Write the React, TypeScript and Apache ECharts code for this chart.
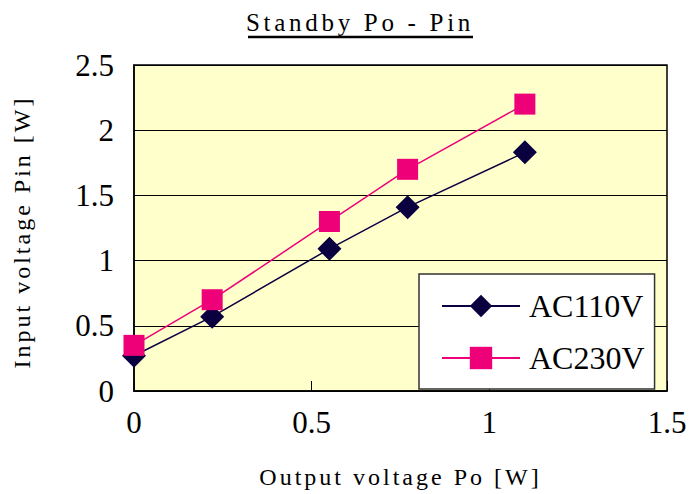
import React, { useEffect, useRef } from "react";
import * as echarts from "echarts";

const titleText = "Standby Po - Pin";
const xAxisName = "Output voltage Po [W]";
const yAxisName = "Input voltage Pin [W]";
const seriesNames = ["AC110V", "AC230V"];
const outputPo = [0, 0.22, 0.55, 0.77, 1.1];
const pinAC110 = [0.27, 0.57, 1.09, 1.41, 1.83];
const pinAC230 = [0.35, 0.7, 1.3, 1.7, 2.2];
const xMin = 0, xMax = 1.5, xStep = 0.5;
const yMin = 0, yMax = 2.5, yStep = 0.5;

const FONT = "Liberation Serif";

export default function App() {
  const ref = useRef<HTMLDivElement>(null);
  useEffect(() => {
    if (!ref.current) return;
    const chart = echarts.init(ref.current, null, { renderer: "svg" });
    const pair = (ys: number[]) => outputPo.map((x, i) => [x, ys[i]]);
    chart.setOption({
      animation: false,
      backgroundColor: "#ffffff",
      textStyle: { fontFamily: FONT, color: "#000" },
      grid: {
        left: 134, right: 23, top: 65, bottom: 102,
        show: true, backgroundColor: "#FFFFCC", borderColor: "#000", borderWidth: 1.5,
      },
      xAxis: {
        type: "value", min: xMin, max: xMax, interval: xStep,
        name: xAxisName, nameLocation: "middle", nameGap: 74,
        nameTextStyle: { fontSize: 24, fontFamily: FONT, color: "#000" },
        axisLine: { show: true, lineStyle: { color: "#000", width: 1.5 } },
        axisTick: { show: true, inside: true, length: 10, lineStyle: { color: "#000" } },
        axisLabel: { fontSize: 31, fontFamily: FONT, color: "#000", margin: 16 },
        splitLine: { show: false },
      },
      yAxis: {
        type: "value", min: yMin, max: yMax, interval: yStep,
        axisLine: { show: true, lineStyle: { color: "#000", width: 1.5 } },
        axisTick: { show: false },
        axisLabel: { fontSize: 31, fontFamily: FONT, color: "#000", margin: 20 },
        splitLine: { show: true, lineStyle: { color: "#000", width: 1 } },
      },
      legend: {
        data: seriesNames,
        orient: "vertical",
        left: 419, top: 274,
        padding: [16, 10, 15, 22],
        itemWidth: 78, itemHeight: 28, itemGap: 20,
        backgroundColor: "#ffffff", borderColor: "#333", borderWidth: 1.5,
        textStyle: { fontSize: 32, fontFamily: FONT, color: "#000", padding: [0, 0, 0, 4] },
      },
      graphic: [
        {
          type: "text", x: 360, y: 22,
          style: { text: titleText, font: `25px '${FONT}'`, fill: "#000", align: "center", verticalAlign: "middle" },
        },
        {
          type: "line", shape: { x1: 248, y1: 37, x2: 473, y2: 37 },
          style: { stroke: "#000", lineWidth: 2.5 },
        },
        {
          type: "text", x: 22, y: 232, rotation: Math.PI / 2,
          style: { text: yAxisName, font: `24px '${FONT}'`, fill: "#000", align: "center", verticalAlign: "middle" },
        },
      ],
      series: [
        {
          name: seriesNames[0], type: "line", data: pair(pinAC110),
          symbol: "diamond", symbolSize: 24, clip: false,
          itemStyle: { color: "#0A0040" }, lineStyle: { color: "#0A0040", width: 1.5 },
        },
        {
          name: seriesNames[1], type: "line", data: pair(pinAC230),
          symbol: "rect", symbolSize: 21, clip: false,
          itemStyle: { color: "#EE0078" }, lineStyle: { color: "#EE0078", width: 1.5 },
        },
      ],
    });
    return () => chart.dispose();
  }, []);
  return (
    <>
      <style>{`
        .chartbox text[style*="25px"] { letter-spacing: 3.7px; }
        .chartbox text[style*="24px"] { letter-spacing: 3px; }
      `}</style>
      <div
        ref={ref}
        className="chartbox"
        style={{ position: "fixed", left: 0, top: 0, width: 690, height: 494 }}
      />
    </>
  );
}
